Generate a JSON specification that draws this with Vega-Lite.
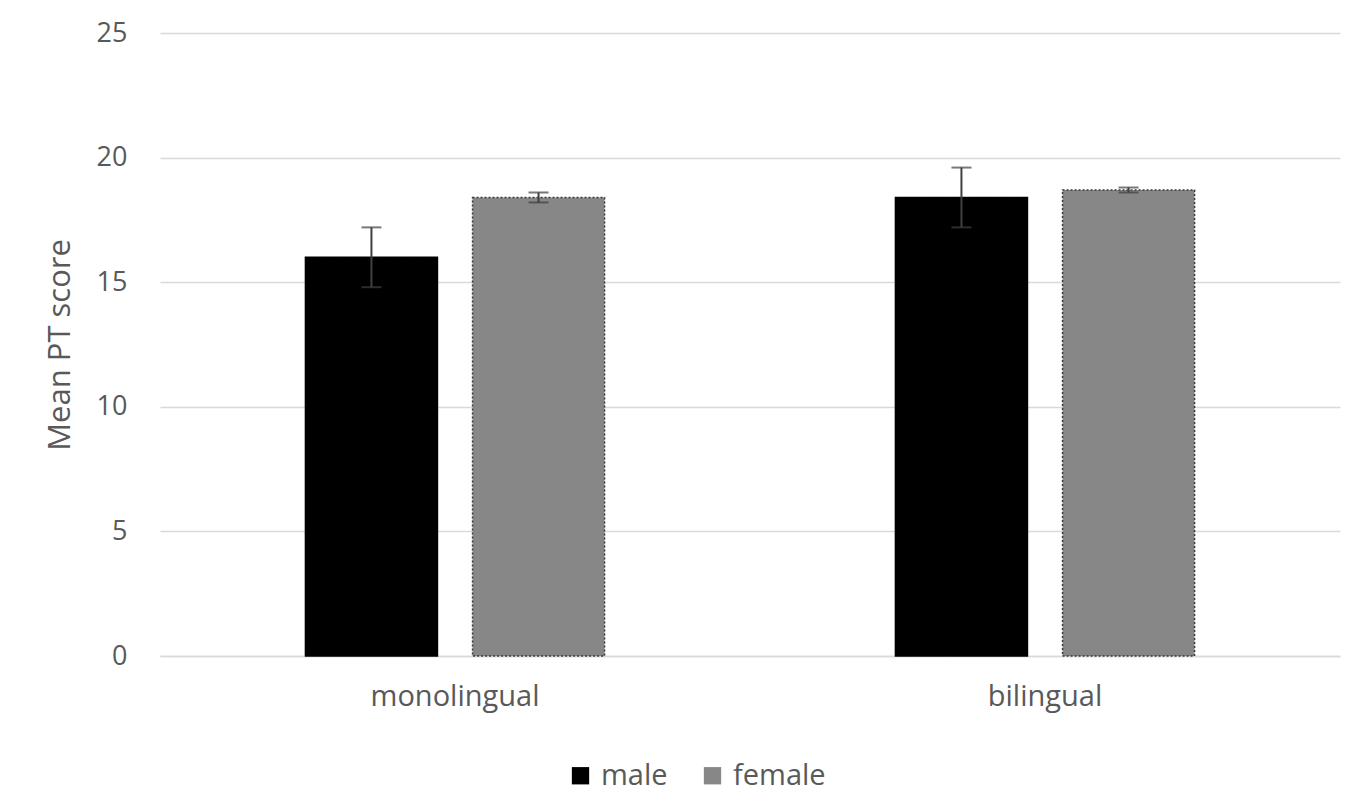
{
  "$schema": "https://vega.github.io/schema/vega-lite/v6.json",
  "autosize": {"type": "none"},
  "padding": {"left": 160, "top": 33, "right": 10, "bottom": 145},
  "width": 1180,
  "height": 623,
  "background": "white",
  "config": {
    "font": "Open Sans",
    "view": {"stroke": null}
  },
  "data": {
    "values": [
      {"language": "monolingual", "sex": "male", "mean": 16.0, "low": 14.8, "high": 17.2},
      {"language": "monolingual", "sex": "female", "mean": 18.4, "low": 18.2, "high": 18.6},
      {"language": "bilingual", "sex": "male", "mean": 18.4, "low": 17.2, "high": 19.6},
      {"language": "bilingual", "sex": "female", "mean": 18.7, "low": 18.6, "high": 18.8}
    ]
  },
  "encoding": {
    "x": {
      "field": "language",
      "type": "nominal",
      "sort": ["monolingual", "bilingual"],
      "scale": {"paddingInner": 0.493, "paddingOuter": 0.2465},
      "axis": {
        "title": null,
        "labelAngle": 0,
        "labelFontSize": 29,
        "labelColor": "#595959",
        "labelPadding": 26,
        "ticks": false,
        "domainColor": "#d9d9d9",
        "domainWidth": 1.5
      }
    },
    "xOffset": {
      "field": "sex",
      "type": "nominal",
      "sort": ["male", "female"],
      "scale": {"paddingInner": 0.21, "paddingOuter": 0}
    }
  },
  "layer": [
    {
      "mark": {"type": "bar", "strokeWidth": 1.5},
      "encoding": {
        "y": {
          "field": "mean",
          "type": "quantitative",
          "title": "Mean PT score",
          "scale": {"domain": [0, 25], "nice": false},
          "axis": {
            "titleFontSize": 31,
            "titleFontWeight": "normal",
            "titleColor": "#595959",
            "titlePadding": 20,
            "values": [0, 5, 10, 15, 20, 25],
            "labelFontSize": 27,
            "labelColor": "#595959",
            "labelPadding": 33,
            "ticks": false,
            "domain": false,
            "gridColor": "#d9d9d9",
            "gridWidth": 1.5
          }
        },
        "color": {
          "field": "sex",
          "type": "nominal",
          "sort": ["male", "female"],
          "scale": {"domain": ["male", "female"], "range": ["#000000", "#878787"]},
          "legend": {
            "title": null,
            "orient": "none",
            "direction": "horizontal",
            "legendX": 406,
            "legendY": 728,
            "symbolType": "square",
            "symbolSize": 300,
            "symbolStrokeWidth": 0,
            "symbolOpacity": 1,
            "labelFontSize": 29,
            "labelColor": "#595959",
            "columnPadding": 30,
            "labelOffset": 6
          }
        },
        "stroke": {
          "field": "sex",
          "type": "nominal",
          "scale": {"domain": ["male", "female"], "range": ["#000000", "#3a3a3a"]},
          "legend": null
        },
        "strokeDash": {
          "field": "sex",
          "type": "nominal",
          "scale": {"domain": ["male", "female"], "range": [[1, 0], [2, 2]]},
          "legend": null
        }
      }
    },
    {
      "mark": {"type": "errorbar", "ticks": {"size": 20, "color": "#404040", "thickness": 2}, "rule": {"color": "#404040", "strokeWidth": 2}},
      "encoding": {
        "y": {"field": "low", "type": "quantitative", "title": "Mean PT score"},
        "y2": {"field": "high"}
      }
    }
  ]
}
